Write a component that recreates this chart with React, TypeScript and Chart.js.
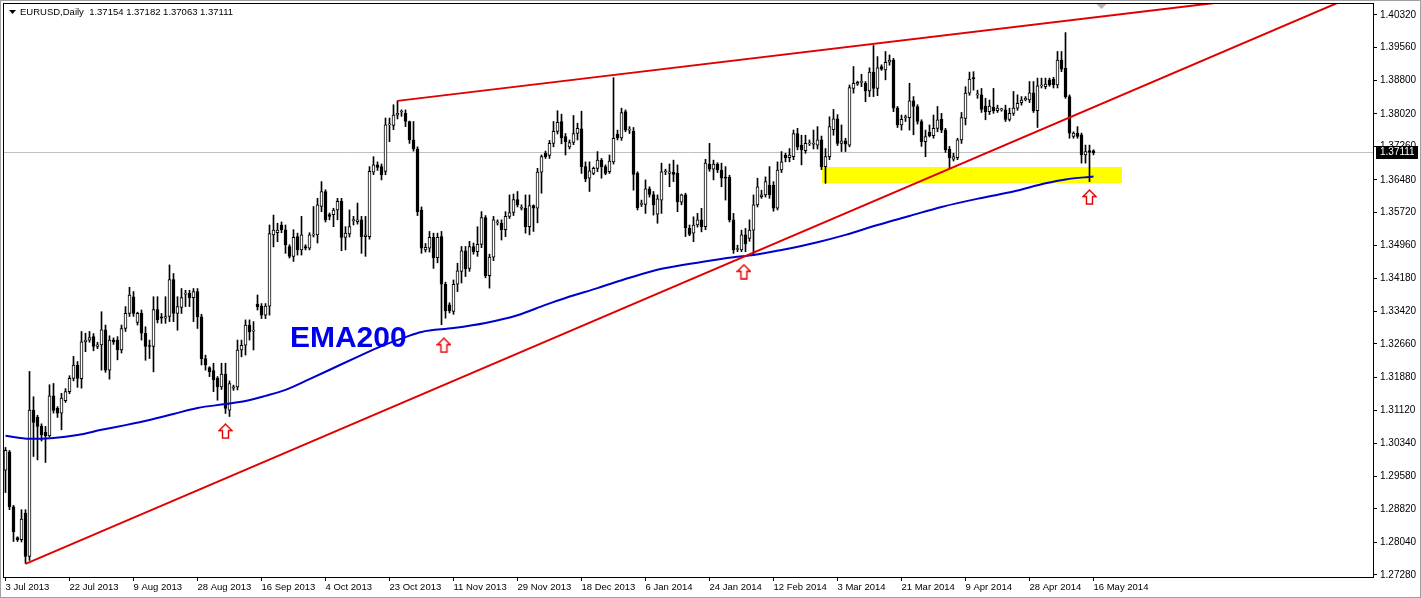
import React, { useEffect, useRef } from 'react';
import { Chart, registerables } from 'chart.js';

Chart.register(...registerables);

// ---------- DATA ----------
const symbolTitle = 'EURUSD,Daily';
const titleQuote = ['1.37154', '1.37182', '1.37063', '1.37111'];

// one date label every 16 daily bars (bar 0 = 3 Jul 2013)
const barsPerLabel = 16;
const xTickLabels = [
  '3 Jul 2013', '22 Jul 2013', '9 Aug 2013', '28 Aug 2013', '16 Sep 2013', '4 Oct 2013',
  '23 Oct 2013', '11 Nov 2013', '29 Nov 2013', '18 Dec 2013', '6 Jan 2014', '24 Jan 2014',
  '12 Feb 2014', '3 Mar 2014', '21 Mar 2014', '9 Apr 2014', '28 Apr 2014', '16 May 2014',
];

const yTickValues = [
  1.4032, 1.3956, 1.388, 1.3802, 1.3726, 1.3648, 1.3572, 1.3496, 1.3418,
  1.3342, 1.3266, 1.3188, 1.3112, 1.3034, 1.2958, 1.2882, 1.2804, 1.2728,
];

// [open, high, low, close]
const ohlc: [number, number, number, number][] = [
  [1.2972, 1.3025, 1.2920, 1.3018], [1.3015, 1.3018, 1.2880, 1.2887], [1.2887, 1.2890, 1.2806, 1.2829],
  [1.2815, 1.2817, 1.2806, 1.2810], [1.2810, 1.2880, 1.2805, 1.2858], [1.2872, 1.2880, 1.2755, 1.2771],
  [1.2771, 1.3202, 1.2762, 1.3112], [1.3112, 1.3143, 1.3004, 1.3083], [1.3095, 1.3100, 1.2996, 1.3074],
  [1.3074, 1.3080, 1.3040, 1.3054], [1.3060, 1.3074, 1.2990, 1.3052], [1.3052, 1.3171, 1.3050, 1.3145],
  [1.3145, 1.3174, 1.3105, 1.3111], [1.3116, 1.3120, 1.3095, 1.3105], [1.3105, 1.3151, 1.3066, 1.3140],
  [1.3134, 1.3162, 1.3130, 1.3155], [1.3155, 1.3192, 1.3150, 1.3186], [1.3186, 1.3237, 1.3180, 1.3217],
  [1.3217, 1.3225, 1.3165, 1.3186], [1.3185, 1.3295, 1.3163, 1.3271], [1.3271, 1.3291, 1.3248, 1.3275],
  [1.3275, 1.3295, 1.3270, 1.3281], [1.3283, 1.3290, 1.3250, 1.3260], [1.3260, 1.3270, 1.3255, 1.3264],
  [1.3264, 1.3341, 1.3205, 1.3299], [1.3299, 1.3310, 1.3200, 1.3205], [1.3205, 1.3285, 1.3184, 1.3275],
  [1.3275, 1.3280, 1.3265, 1.3271], [1.3275, 1.3283, 1.3229, 1.3252], [1.3252, 1.3310, 1.3245, 1.3302],
  [1.3302, 1.3353, 1.3295, 1.3337], [1.3337, 1.3398, 1.3330, 1.3380], [1.3376, 1.3388, 1.3330, 1.3337],
  [1.3316, 1.3340, 1.3310, 1.3337], [1.3337, 1.3345, 1.3275, 1.3291], [1.3291, 1.3306, 1.3228, 1.3260],
  [1.3262, 1.3275, 1.3232, 1.3260], [1.3260, 1.3376, 1.3201, 1.3346], [1.3346, 1.3376, 1.3315, 1.3322],
  [1.3329, 1.3337, 1.3314, 1.3326], [1.3326, 1.3376, 1.3314, 1.3330], [1.3330, 1.3450, 1.3318, 1.3416],
  [1.3416, 1.3430, 1.3318, 1.3337], [1.3337, 1.3376, 1.3298, 1.3353], [1.3351, 1.3395, 1.3337, 1.3374],
  [1.3382, 1.3391, 1.3353, 1.3384], [1.3384, 1.3391, 1.3353, 1.3374], [1.3374, 1.3395, 1.3318, 1.3388],
  [1.3388, 1.3395, 1.3302, 1.3329], [1.3329, 1.3335, 1.3217, 1.3232], [1.3232, 1.3240, 1.3205, 1.3217],
  [1.3211, 1.3213, 1.3190, 1.3201], [1.3204, 1.3221, 1.3155, 1.3182], [1.3186, 1.3190, 1.3135, 1.3166],
  [1.3166, 1.3221, 1.3160, 1.3196], [1.3196, 1.3221, 1.3104, 1.3116], [1.3112, 1.3180, 1.3097, 1.3174],
  [1.3163, 1.3170, 1.3158, 1.3166], [1.3166, 1.3275, 1.3159, 1.3252], [1.3252, 1.3275, 1.3236, 1.3263],
  [1.3263, 1.3322, 1.3240, 1.3310], [1.3310, 1.3322, 1.3275, 1.3294], [1.3296, 1.3318, 1.3252, 1.3296],
  [1.3358, 1.3380, 1.3345, 1.3353], [1.3354, 1.3360, 1.3325, 1.3333], [1.3333, 1.3360, 1.3325, 1.3354],
  [1.3354, 1.3543, 1.3333, 1.3523], [1.3520, 1.3566, 1.3492, 1.3531], [1.3525, 1.3547, 1.3504, 1.3531],
  [1.3543, 1.3550, 1.3525, 1.3532], [1.3532, 1.3543, 1.3477, 1.3497], [1.3493, 1.3497, 1.3466, 1.3470],
  [1.3470, 1.3532, 1.3458, 1.3514], [1.3516, 1.3524, 1.3473, 1.3485], [1.3485, 1.3563, 1.3473, 1.3520],
  [1.3493, 1.3497, 1.3485, 1.3489], [1.3489, 1.3525, 1.3485, 1.3520], [1.3519, 1.3586, 1.3515, 1.3522],
  [1.3520, 1.3605, 1.3501, 1.3590], [1.3586, 1.3644, 1.3574, 1.3621], [1.3621, 1.3625, 1.3550, 1.3555],
  [1.3567, 1.3571, 1.3555, 1.3563], [1.3567, 1.3582, 1.3539, 1.3578], [1.3578, 1.3605, 1.3555, 1.3598],
  [1.3598, 1.3605, 1.3483, 1.3514], [1.3514, 1.3539, 1.3485, 1.3524], [1.3522, 1.3578, 1.3515, 1.3539],
  [1.3553, 1.3563, 1.3543, 1.3553], [1.3551, 1.3594, 1.3545, 1.3555], [1.3555, 1.3563, 1.3477, 1.3516],
  [1.3516, 1.3563, 1.3470, 1.3520], [1.3516, 1.3679, 1.3510, 1.3668], [1.3666, 1.3702, 1.3660, 1.3683],
  [1.3683, 1.3690, 1.3670, 1.3677], [1.3679, 1.3685, 1.3648, 1.3660], [1.3668, 1.3792, 1.3660, 1.3776],
  [1.3776, 1.3792, 1.3737, 1.3776], [1.3775, 1.3823, 1.3765, 1.3799], [1.3799, 1.3832, 1.3790, 1.3803],
  [1.3806, 1.3811, 1.3796, 1.3806], [1.3803, 1.3811, 1.3772, 1.3784], [1.3784, 1.3785, 1.3733, 1.3741],
  [1.3741, 1.3784, 1.3715, 1.3720], [1.3720, 1.3725, 1.3565, 1.3574], [1.3578, 1.3585, 1.3477, 1.3489],
  [1.3485, 1.3500, 1.3480, 1.3491], [1.3489, 1.3528, 1.3480, 1.3514], [1.3514, 1.3524, 1.3442, 1.3467],
  [1.3467, 1.3524, 1.3455, 1.3514], [1.3516, 1.3528, 1.3311, 1.3405], [1.3405, 1.3410, 1.3326, 1.3343],
  [1.3357, 1.3362, 1.3338, 1.3343], [1.3342, 1.3415, 1.3335, 1.3405], [1.3405, 1.3454, 1.3388, 1.3436],
  [1.3435, 1.3493, 1.3408, 1.3483], [1.3483, 1.3493, 1.3423, 1.3441], [1.3442, 1.3505, 1.3435, 1.3493],
  [1.3493, 1.3501, 1.3475, 1.3481], [1.3481, 1.3539, 1.3470, 1.3498], [1.3498, 1.3574, 1.3490, 1.3560],
  [1.3560, 1.3565, 1.3420, 1.3425], [1.3425, 1.3475, 1.3396, 1.3468], [1.3468, 1.3563, 1.3460, 1.3555],
  [1.3548, 1.3555, 1.3543, 1.3548], [1.3547, 1.3555, 1.3508, 1.3532], [1.3532, 1.3574, 1.3516, 1.3563],
  [1.3563, 1.3613, 1.3558, 1.3572], [1.3572, 1.3615, 1.3565, 1.3602], [1.3602, 1.3621, 1.3585, 1.3590],
  [1.3582, 1.3590, 1.3578, 1.3582], [1.3582, 1.3613, 1.3524, 1.3539], [1.3539, 1.3613, 1.3520, 1.3588],
  [1.3588, 1.3590, 1.3528, 1.3582], [1.3582, 1.3675, 1.3548, 1.3666], [1.3666, 1.3706, 1.3617, 1.3702],
  [1.3710, 1.3715, 1.3698, 1.3702], [1.3705, 1.3740, 1.3698, 1.3733], [1.3733, 1.3784, 1.3725, 1.3761],
  [1.3761, 1.3809, 1.3755, 1.3782], [1.3784, 1.3801, 1.3732, 1.3746], [1.3749, 1.3756, 1.3706, 1.3737],
  [1.3725, 1.3741, 1.3720, 1.3735], [1.3735, 1.3798, 1.3730, 1.3756], [1.3756, 1.3780, 1.3741, 1.3768],
  [1.3767, 1.3808, 1.3663, 1.3679], [1.3679, 1.3690, 1.3644, 1.3650], [1.3652, 1.3690, 1.3621, 1.3669],
  [1.3663, 1.3678, 1.3660, 1.3675], [1.3675, 1.3714, 1.3667, 1.3694], [1.3694, 1.3698, 1.3652, 1.3679],
  [1.3679, 1.3683, 1.3660, 1.3663], [1.3667, 1.3706, 1.3663, 1.3692], [1.3690, 1.3886, 1.3685, 1.3745],
  [1.3754, 1.3764, 1.3741, 1.3746], [1.3746, 1.3815, 1.3740, 1.3805], [1.3807, 1.3811, 1.3760, 1.3764],
  [1.3764, 1.3772, 1.3756, 1.3764], [1.3761, 1.3770, 1.3624, 1.3661], [1.3663, 1.3667, 1.3578, 1.3583],
  [1.3591, 1.3601, 1.3586, 1.3591], [1.3591, 1.3648, 1.3570, 1.3627], [1.3627, 1.3632, 1.3608, 1.3614],
  [1.3614, 1.3621, 1.3566, 1.3590], [1.3568, 1.3613, 1.3547, 1.3604], [1.3601, 1.3687, 1.3570, 1.3667],
  [1.3667, 1.3673, 1.3660, 1.3667], [1.3663, 1.3685, 1.3632, 1.3667], [1.3666, 1.3694, 1.3644, 1.3661],
  [1.3663, 1.3683, 1.3574, 1.3597], [1.3596, 1.3615, 1.3590, 1.3613], [1.3613, 1.3617, 1.3516, 1.3537],
  [1.3535, 1.3543, 1.3518, 1.3521], [1.3524, 1.3562, 1.3504, 1.3543], [1.3543, 1.3570, 1.3538, 1.3555],
  [1.3555, 1.3582, 1.3527, 1.3539], [1.3539, 1.3696, 1.3532, 1.3687], [1.3685, 1.3733, 1.3668, 1.3673],
  [1.3673, 1.3694, 1.3648, 1.3685], [1.3685, 1.3688, 1.3665, 1.3671], [1.3671, 1.3687, 1.3632, 1.3652],
  [1.3654, 1.3679, 1.3601, 1.3652], [1.3654, 1.3659, 1.3550, 1.3555], [1.3555, 1.3570, 1.3477, 1.3485],
  [1.3486, 1.3496, 1.3481, 1.3486], [1.3485, 1.3531, 1.3481, 1.3520], [1.3520, 1.3535, 1.3481, 1.3499],
  [1.3512, 1.3555, 1.3505, 1.3531], [1.3531, 1.3613, 1.3473, 1.3590], [1.3590, 1.3652, 1.3585, 1.3632],
  [1.3609, 1.3624, 1.3605, 1.3613], [1.3613, 1.3655, 1.3608, 1.3644], [1.3636, 1.3679, 1.3605, 1.3613],
  [1.3636, 1.3644, 1.3575, 1.3582], [1.3582, 1.3690, 1.3578, 1.3671], [1.3671, 1.3714, 1.3665, 1.3690],
  [1.3706, 1.3710, 1.3690, 1.3700], [1.3700, 1.3721, 1.3690, 1.3706], [1.3702, 1.3764, 1.3695, 1.3756],
  [1.3756, 1.3768, 1.3718, 1.3724], [1.3729, 1.3752, 1.3683, 1.3718], [1.3716, 1.3752, 1.3710, 1.3733],
  [1.3732, 1.3741, 1.3728, 1.3732], [1.3731, 1.3764, 1.3720, 1.3733], [1.3729, 1.3772, 1.3720, 1.3741],
  [1.3741, 1.3750, 1.3672, 1.3679], [1.3679, 1.3721, 1.3640, 1.3702], [1.3702, 1.3795, 1.3695, 1.3772],
  [1.3765, 1.3812, 1.3752, 1.3790], [1.3790, 1.3800, 1.3728, 1.3733], [1.3733, 1.3776, 1.3714, 1.3739],
  [1.3739, 1.3745, 1.3714, 1.3731], [1.3729, 1.3869, 1.3725, 1.3863], [1.3861, 1.3912, 1.3850, 1.3873],
  [1.3871, 1.3878, 1.3868, 1.3875], [1.3875, 1.3894, 1.3865, 1.3875], [1.3873, 1.3877, 1.3830, 1.3855],
  [1.3855, 1.3909, 1.3842, 1.3899], [1.3899, 1.3961, 1.3842, 1.3861], [1.3861, 1.3935, 1.3844, 1.3909],
  [1.3912, 1.3916, 1.3903, 1.3906], [1.3904, 1.3947, 1.3881, 1.3922], [1.3922, 1.3939, 1.3915, 1.3927],
  [1.3927, 1.3931, 1.3807, 1.3815], [1.3815, 1.3819, 1.3770, 1.3776], [1.3776, 1.3799, 1.3764, 1.3789],
  [1.3793, 1.3799, 1.3784, 1.3793], [1.3793, 1.3873, 1.3764, 1.3832], [1.3832, 1.3842, 1.3753, 1.3819],
  [1.3819, 1.3823, 1.3778, 1.3784], [1.3784, 1.3788, 1.3726, 1.3737], [1.3737, 1.3764, 1.3702, 1.3749],
  [1.3759, 1.3776, 1.3748, 1.3751], [1.3751, 1.3799, 1.3745, 1.3768], [1.3768, 1.3819, 1.3760, 1.3788],
  [1.3789, 1.3803, 1.3758, 1.3764], [1.3764, 1.3768, 1.3712, 1.3718], [1.3720, 1.3726, 1.3675, 1.3700],
  [1.3696, 1.3710, 1.3692, 1.3702], [1.3700, 1.3745, 1.3695, 1.3741], [1.3741, 1.3805, 1.3733, 1.3793],
  [1.3791, 1.3865, 1.3776, 1.3850], [1.3850, 1.3899, 1.3845, 1.3883], [1.3886, 1.3900, 1.3857, 1.3883],
  [1.3846, 1.3857, 1.3838, 1.3846], [1.3846, 1.3861, 1.3805, 1.3812], [1.3820, 1.3838, 1.3788, 1.3807],
  [1.3807, 1.3834, 1.3800, 1.3820], [1.3817, 1.3861, 1.3803, 1.3809], [1.3809, 1.3822, 1.3805, 1.3815],
  [1.3811, 1.3815, 1.3808, 1.3811], [1.3811, 1.3822, 1.3784, 1.3789], [1.3789, 1.3815, 1.3785, 1.3803],
  [1.3803, 1.3854, 1.3798, 1.3815], [1.3815, 1.3846, 1.3810, 1.3826], [1.3828, 1.3842, 1.3822, 1.3834],
  [1.3834, 1.3842, 1.3832, 1.3838], [1.3834, 1.3877, 1.3828, 1.3851], [1.3851, 1.3877, 1.3805, 1.3809],
  [1.3809, 1.3885, 1.3770, 1.3867], [1.3867, 1.3885, 1.3862, 1.3867], [1.3865, 1.3885, 1.3860, 1.3871],
  [1.3881, 1.3885, 1.3866, 1.3869], [1.3882, 1.3887, 1.3862, 1.3869], [1.3869, 1.3947, 1.3862, 1.3927],
  [1.3927, 1.3947, 1.3900, 1.3906], [1.3908, 1.3991, 1.3838, 1.3842], [1.3842, 1.3846, 1.3745, 1.3757],
  [1.3749, 1.3760, 1.3745, 1.3757], [1.3757, 1.3772, 1.3745, 1.3749], [1.3753, 1.3757, 1.3687, 1.3706],
  [1.3706, 1.3729, 1.3687, 1.3714], [1.3716, 1.3729, 1.3644, 1.3712], [1.37154, 1.37182, 1.37063, 1.37111],
];

// EMA(200) read at sample bars
const emaBars = [0, 6, 12, 18, 24, 30, 36, 42, 48, 55, 60, 65, 70, 76, 82, 88, 94, 100, 104, 112, 120, 128,
  135, 140, 148, 156, 164, 174, 182, 187, 194, 203, 210, 218, 226, 234, 244, 252, 260, 265, 272];
const emaValues = [1.3052, 1.3045, 1.3047, 1.3054, 1.3066, 1.3077, 1.3089, 1.3103, 1.3117, 1.3126, 1.3133,
  1.3145, 1.3159, 1.3184, 1.3210, 1.3236, 1.3261, 1.3282, 1.3294, 1.3303, 1.3315, 1.3333, 1.3357, 1.3373,
  1.3396, 1.3420, 1.3441, 1.3457, 1.3468, 1.3473, 1.3485, 1.3503, 1.3520, 1.3543, 1.3564, 1.3585, 1.3606,
  1.3621, 1.3640, 1.3649, 1.3656];

// trend lines: [bar, price] anchors
const upperTrend: [number, number][] = [[98, 1.3832], [340, 1.4102]];
const lowerTrend: [number, number][] = [[5, 1.2754], [340, 1.4088]];

// yellow support zone
const zoneBars = [204, 279];
const zonePrices = [1.3641, 1.3678];

// red up-arrow marks [bar, price]
const arrowMarks: [number, number][] = [[55, 1.3063], [109.6, 1.3263], [184.6, 1.3434], [271, 1.3608]];

const emaLabel = { bar: 71.1, price: 1.3259, text: 'EMA200' };
const lastPrice = 1.37111;
const shiftMarkerBar = 274;

const RED = '#e00000';
const BLUE = '#0000cd';
const TEXT_BLUE = '#0000ee';
const FONT = 'Liberation Sans, Arial, sans-serif';

function makeArrow(): HTMLCanvasElement {
  const c = document.createElement('canvas');
  c.width = 15;
  c.height = 16;
  const g = c.getContext('2d')!;
  g.beginPath();
  g.moveTo(7.5, 1);
  g.lineTo(14, 7.5);
  g.lineTo(10.5, 7.5);
  g.lineTo(10.5, 15);
  g.lineTo(4.5, 15);
  g.lineTo(4.5, 7.5);
  g.lineTo(1, 7.5);
  g.closePath();
  g.fillStyle = '#ffffff';
  g.fill();
  g.strokeStyle = RED;
  g.lineWidth = 1.4;
  g.stroke();
  return c;
}

function zeroPadding(s: any) {
  s.paddingTop = 0;
  s.paddingBottom = 0;
  s.paddingLeft = 0;
  s.paddingRight = 0;
}

export default function App() {
  const ref = useRef<HTMLCanvasElement>(null);

  useEffect(() => {
    document.body.style.margin = '0';
    const canvas = ref.current!;
    const arrowImg = makeArrow();

    const overlay = {
      id: 'mt4Overlay',
      beforeDraw(chart: any) {
        const { ctx } = chart;
        ctx.save();
        ctx.fillStyle = '#ffffff';
        ctx.fillRect(0, 0, chart.width, chart.height);
        ctx.restore();
      },
      beforeDatasetsDraw(chart: any) {
        const { ctx, chartArea, scales } = chart;
        const x = scales.x, y = scales.y;
        ctx.save();
        ctx.beginPath();
        ctx.rect(chartArea.left, chartArea.top, chartArea.right - chartArea.left, chartArea.bottom - chartArea.top);
        ctx.clip();
        const x0 = Math.round(x.getPixelForValue(zoneBars[0]));
        const x1 = Math.round(x.getPixelForValue(zoneBars[1]));
        const y0 = Math.round(y.getPixelForValue(zonePrices[1]));
        const y1 = Math.round(y.getPixelForValue(zonePrices[0]));
        ctx.fillStyle = '#ffff00';
        ctx.fillRect(x0, y0, x1 - x0, y1 - y0);
        const py = Math.floor(y.getPixelForValue(lastPrice)) + 0.5;
        ctx.strokeStyle = '#c0c0c0';
        ctx.lineWidth = 1;
        ctx.beginPath();
        ctx.moveTo(chartArea.left, py);
        ctx.lineTo(chartArea.right, py);
        ctx.stroke();
        ctx.restore();
      },
      afterDatasetsDraw(chart: any) {
        const { ctx, scales } = chart;
        ctx.save();
        ctx.fillStyle = TEXT_BLUE;
        ctx.font = `bold 30px ${FONT}`;
        ctx.textBaseline = 'alphabetic';
        ctx.textAlign = 'left';
        ctx.fillText(emaLabel.text, scales.x.getPixelForValue(emaLabel.bar), scales.y.getPixelForValue(emaLabel.price));
        ctx.restore();
      },
      afterDraw(chart: any) {
        const { ctx, chartArea, scales } = chart;
        ctx.save();
        ctx.strokeStyle = '#000000';
        ctx.lineWidth = 1;
        ctx.strokeRect(chartArea.left + 0.5, chartArea.top + 0.5, chartArea.right - chartArea.left - 1, chartArea.bottom - chartArea.top - 1);
        ctx.strokeStyle = '#a0a0a0';
        ctx.strokeRect(0.5, 0.5, chart.width - 1, chart.height - 1);
        const sx = scales.x.getPixelForValue(shiftMarkerBar);
        ctx.fillStyle = '#b4b4b4';
        ctx.beginPath();
        ctx.moveTo(sx - 5, chartArea.top + 1);
        ctx.lineTo(sx + 5, chartArea.top + 1);
        ctx.lineTo(sx, chartArea.top + 6);
        ctx.closePath();
        ctx.fill();
        const py = Math.floor(scales.y.getPixelForValue(lastPrice)) + 0.5;
        ctx.fillStyle = '#000000';
        ctx.fillRect(chartArea.right + 2, Math.round(py - 7), 42, 13);
        ctx.fillStyle = '#ffffff';
        ctx.font = `10px ${FONT}`;
        ctx.textBaseline = 'middle';
        ctx.textAlign = 'left';
        ctx.fillText(lastPrice.toFixed(5), chartArea.right + 6, py);
        ctx.fillStyle = '#000000';
        ctx.beginPath();
        ctx.moveTo(chartArea.left + 6, chartArea.top + 7);
        ctx.lineTo(chartArea.left + 13, chartArea.top + 7);
        ctx.lineTo(chartArea.left + 9.5, chartArea.top + 11);
        ctx.closePath();
        ctx.fill();
        ctx.font = `9.5px ${FONT}`;
        ctx.textBaseline = 'middle';
        ctx.fillText(symbolTitle + '  ' + titleQuote.join(' '), chartArea.left + 17, chartArea.top + 9.5);
        ctx.restore();
      },
    };

    const chart = new Chart(canvas, {
      type: 'bar',
      data: {
        datasets: [
          {
            type: 'line',
            label: 'upper trend',
            data: upperTrend.map(([x, y]) => ({ x, y })),
            borderColor: RED,
            borderWidth: 2,
            pointRadius: 0,
            clip: 0,
            order: 0,
          } as any,
          {
            type: 'line',
            label: 'lower trend',
            data: lowerTrend.map(([x, y]) => ({ x, y })),
            borderColor: RED,
            borderWidth: 2,
            pointRadius: 0,
            clip: 0,
            order: 0,
          } as any,
          {
            type: 'line',
            label: 'EMA200',
            data: emaBars.map((b, k) => ({ x: b, y: emaValues[k] })),
            borderColor: BLUE,
            borderWidth: 2,
            pointRadius: 0,
            cubicInterpolationMode: 'monotone',
            clip: 0,
            order: 1,
          } as any,
          {
            type: 'scatter',
            label: 'arrows',
            data: arrowMarks.map(([x, y]) => ({ x, y })),
            pointStyle: arrowImg,
            pointRadius: 7,
            order: 0,
          } as any,
          {
            type: 'bar',
            label: 'bodies',
            data: ohlc.map((c, i) => ({ x: i, y: [c[0], c[3]] })),
            backgroundColor: ohlc.map((c) => (c[3] >= c[0] ? '#ffffff' : '#000000')),
            borderColor: '#000000',
            borderWidth: 1,
            borderSkipped: false,
            barThickness: 3,
            minBarLength: 1,
            grouped: false,
            order: 2,
          } as any,
          {
            type: 'bar',
            label: 'wicks',
            data: ohlc.map((c, i) => ({ x: i, y: [c[2], c[1]] })),
            backgroundColor: '#000000',
            borderWidth: 0,
            barThickness: 1,
            grouped: false,
            order: 3,
          } as any,
        ],
      },
      options: {
        responsive: false,
        animation: false,
        devicePixelRatio: 1,
        events: [],
        layout: { autoPadding: false, padding: { left: 3, top: 3, right: 0, bottom: 0 } },
        plugins: { legend: { display: false }, tooltip: { enabled: false }, title: { display: false } },
        scales: {
          x: {
            type: 'linear',
            position: 'bottom',
            min: -0.625,
            max: 342.125,
            offset: false,
            afterBuildTicks: (s: any) => {
              s.ticks = xTickLabels.map((_, k) => ({ value: k * barsPerLabel }));
            },
            afterFit: (s: any) => {
              s.height = 20;
              zeroPadding(s);
            },
            ticks: {
              autoSkip: false,
              maxRotation: 0,
              minRotation: 0,
              align: 'start',
              padding: 1,
              color: '#000000',
              font: { family: FONT, size: 9.5 },
              callback: (v: any) => xTickLabels[Math.round(Number(v) / barsPerLabel)] ?? '',
            },
            grid: { drawOnChartArea: false, tickLength: 3, color: '#000000', offset: false },
            border: { display: false },
          },
          y: {
            type: 'linear',
            position: 'right',
            min: 1.2721,
            max: 1.40599,
            afterBuildTicks: (s: any) => {
              s.ticks = yTickValues.map((v) => ({ value: v }));
            },
            afterFit: (s: any) => {
              s.width = 47;
              zeroPadding(s);
            },
            ticks: {
              padding: 3,
              color: '#000000',
              font: { family: FONT, size: 10 },
              callback: (v: any) => Number(v).toFixed(5),
            },
            grid: { drawOnChartArea: false, tickLength: 3, color: '#000000' },
            border: { display: false },
          },
        },
      } as any,
      plugins: [overlay],
    });

    return () => chart.destroy();
  }, []);

  return <canvas ref={ref} width={1421} height={598} style={{ display: 'block' }} />;
}
